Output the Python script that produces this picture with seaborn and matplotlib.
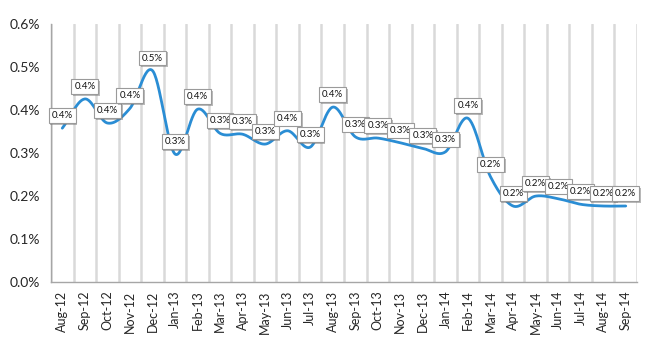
import numpy as np
import pandas as pd
import matplotlib
matplotlib.use('Agg')
import matplotlib.pyplot as plt
import matplotlib.patheffects as pe
from matplotlib.ticker import FixedLocator, FuncFormatter
import seaborn as sns

# Monthly values (percent)
months = ['Aug-12', 'Sep-12', 'Oct-12', 'Nov-12', 'Dec-12', 'Jan-13', 'Feb-13',
          'Mar-13', 'Apr-13', 'May-13', 'Jun-13', 'Jul-13', 'Aug-13', 'Sep-13',
          'Oct-13', 'Nov-13', 'Dec-13', 'Jan-14', 'Feb-14', 'Mar-14', 'Apr-14',
          'May-14', 'Jun-14', 'Jul-14', 'Aug-14', 'Sep-14']
rate = [0.358, 0.426, 0.370, 0.404, 0.492, 0.298, 0.402, 0.346, 0.344, 0.321,
        0.352, 0.314, 0.407, 0.338, 0.335, 0.324, 0.311, 0.303, 0.381, 0.245,
        0.177, 0.200, 0.194, 0.181, 0.177, 0.177]
y_ticks = [0.0, 0.1, 0.2, 0.3, 0.4, 0.5, 0.6]

line_color = '#2a8dd4'

sns.set_style('white')
plt.rcParams['font.family'] = ['Lato', 'DejaVu Sans']


# Excel-style smoothed line (Catmull-Rom through the data points)
def smooth_line(xs, ys, steps=30):
    xs = np.asarray(xs, float)
    ys = np.asarray(ys, float)
    px = np.concatenate([[2 * xs[0] - xs[1]], xs, [2 * xs[-1] - xs[-2]]])
    py = np.concatenate([[2 * ys[0] - ys[1]], ys, [2 * ys[-1] - ys[-2]]])
    out_x, out_y = [], []
    t = np.linspace(0, 1, steps, endpoint=False)
    for i in range(1, len(px) - 2):
        for arr, out in ((px, out_x), (py, out_y)):
            p0, p1, p2, p3 = arr[i - 1], arr[i], arr[i + 1], arr[i + 2]
            out.extend(0.5 * ((2 * p1) + (-p0 + p2) * t
                              + (2 * p0 - 5 * p1 + 4 * p2 - p3) * t ** 2
                              + (-p0 + 3 * p1 - 3 * p2 + p3) * t ** 3))
    out_x.append(xs[-1])
    out_y.append(ys[-1])
    return np.array(out_x), np.array(out_y)


df = pd.DataFrame({'month': months, 'rate': rate})
df['pos'] = np.arange(len(df))
sx, sy = smooth_line(df['pos'], df['rate'])
smooth_df = pd.DataFrame({'pos': sx, 'rate': sy})

fig = plt.figure(figsize=(6.5, 3.5), dpi=100)
ax = fig.add_axes([0.0785, 0.194, 0.9015, 0.737])

sns.lineplot(data=smooth_df, x='pos', y='rate', color=line_color,
             linewidth=2.0, ax=ax, zorder=3)

# data labels
for _, row in df.iterrows():
    t = ax.annotate(f"{row['rate']:.1f}%", (row['pos'], row['rate']),
                    xytext=(0, 9), textcoords='offset points',
                    ha='center', va='center', fontsize=7, color='#111111',
                    zorder=5,
                    bbox=dict(boxstyle='square,pad=0.3', fc='white',
                              ec='#9a9a9a', lw=0.8))
    t.get_bbox_patch().set_path_effects([
        pe.SimplePatchShadow(offset=(1.2, -1.2), shadow_rgbFace='#777777', alpha=0.5),
        pe.Normal()])

n = len(months)
ax.set_xlim(-0.5, n - 0.5)
ax.set_ylim(0, 0.6)
ax.set_xticks(df['pos'])
ax.set_xticklabels(months, rotation=90, fontsize=9)
ax.xaxis.set_minor_locator(FixedLocator(np.arange(n + 1) - 0.5))
ax.tick_params(axis='x', which='major', length=0, pad=6)
ax.tick_params(axis='x', which='minor', length=4, width=1, color='#a6a6a6',
               direction='out')
ax.grid(axis='x', which='minor', color='#d9d9d9', linewidth=1.8)
ax.grid(axis='y', visible=False)

ax.set_yticks(y_ticks)
ax.yaxis.set_major_formatter(FuncFormatter(lambda v, _: f"{v:.1f}%"))
ax.tick_params(axis='y', length=4, width=1, color='#a6a6a6', labelsize=10,
               direction='out', pad=4)

for side in ['top', 'right']:
    ax.spines[side].set_visible(False)
for side in ['left', 'bottom']:
    ax.spines[side].set_color('#a6a6a6')
    ax.spines[side].set_linewidth(1.0)
ax.set_xlabel('')
ax.set_ylabel('')

fig.savefig('out.png', dpi=100)
